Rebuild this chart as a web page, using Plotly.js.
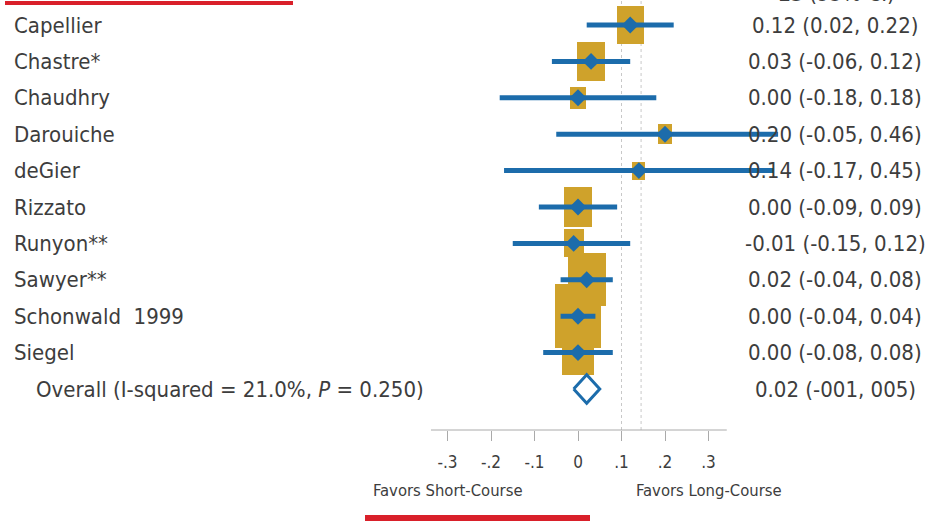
<!DOCTYPE html>
<html>
<head>
<meta charset="utf-8">
<script src="https://cdn.plot.ly/plotly-3.0.1.min.js"></script>
<style>html,body{margin:0;padding:0;background:#fff;}#chart{width:930px;height:521px;}</style>
</head>
<body>
<div id="chart"></div>
<script>
// ---- data ----
const studies = ['Capellier','Chastre*','Chaudhry','Darouiche','deGier','Rizzato','Runyon**','Sawyer**','Schonwald  1999','Siegel'];
const es = [0.12, 0.03, 0.00, 0.20, 0.14, 0.00, -0.01, 0.02, 0.00, 0.00];
const lo = [0.02, -0.06, -0.18, -0.05, -0.17, -0.09, -0.15, -0.04, -0.04, -0.08];
const hi = [0.22, 0.12, 0.18, 0.46, 0.45, 0.09, 0.12, 0.08, 0.04, 0.08];
const weights = [9.2, 9.9, 3.2, 2.5, 2.1, 9.9, 5.1, 18.3, 26.8, 13.0];
const esLabels = ['0.12 (0.02, 0.22)','0.03 (-0.06, 0.12)','0.00 (-0.18, 0.18)','0.20 (-0.05, 0.46)','0.14 (-0.17, 0.45)',
                  '0.00 (-0.09, 0.09)','-0.01 (-0.15, 0.12)','0.02 (-0.04, 0.08)','0.00 (-0.04, 0.04)','0.00 (-0.08, 0.08)'];
const overallLabel = 'Overall (I-squared = 21.0%, <i>P</i> = 0.250)';
const overallES = 0.02, overallLo = -0.01, overallHi = 0.05;
const overallText = '0.02 (-001, 005)';
const tickVals = [-0.3, -0.2, -0.1, 0, 0.1, 0.2, 0.3];
const tickText = ['-.3', '-.2', '-.1', '0', '.1', '.2', '.3'];
const refLines = [0.1, 0.145];
const favorLabels = ['Favors Short-Course', 'Favors Long-Course'];
const favorAt = [-0.3, 0.3];

// ---- geometry (styling) ----
const W = 930, H = 521;
const pxPerX = 435, zeroPx = 578;
const rowPx = 36.4, row0Px = 25;
const xr = [-zeroPx / pxPerX, (W - zeroPx) / pxPerX];
const yr = [(H - row0Px) / rowPx, -row0Px / rowPx];
const axisPaperY = (H - 430) / H;

const rows = studies.map((_, i) => i);
const overallRow = studies.length;
const maxW = Math.max(...weights);
const boxWpx = weights.map(w => 46 * Math.sqrt(w / maxW));
const halfW = boxWpx.map(p => p / 2 / pxPerX);
const boxH = boxWpx.map(p => 1.4 * p / rowPx);

const BLUE = '#1c6cab', GOLD = '#cfa22b', TXT = '#3d3d3d';
const FONT = 'DejaVu Sans Condensed, Liberation Sans, sans-serif';
const FS = 22;

const traces = [
  { type: 'bar', orientation: 'h', y: rows, base: es.map((e, i) => e - halfW[i]),
    x: halfW.map(h => 2 * h), width: boxH, marker: { color: GOLD, line: { width: 0 } },
    hoverinfo: 'skip', showlegend: false },
  { type: 'scatter', mode: 'markers', x: es, y: rows,
    marker: { symbol: 'diamond', size: 13, color: BLUE },
    error_x: { type: 'data', symmetric: false, array: hi.map((h, i) => h - es[i]),
               arrayminus: lo.map((l, i) => es[i] - l), thickness: 5, width: 0, color: BLUE },
    hoverinfo: 'skip', showlegend: false, cliponaxis: false },
  { type: 'scatter', mode: 'lines',
    x: [overallLo, overallES, overallHi, overallES, overallLo],
    y: [overallRow, overallRow - 0.39, overallRow, overallRow + 0.39, overallRow],
    line: { color: BLUE, width: 3 }, hoverinfo: 'skip', showlegend: false }
];

const annotations = [];
studies.forEach((s, i) => annotations.push({ xref: 'paper', yref: 'y', x: 12 / W, y: i, text: s,
  xanchor: 'left', yanchor: 'middle', showarrow: false, font: { family: FONT, size: FS, color: TXT } }));
annotations.push({ xref: 'paper', yref: 'y', x: 34 / W, y: overallRow, text: overallLabel,
  xanchor: 'left', yanchor: 'middle', showarrow: false, font: { family: FONT, size: FS, color: TXT } });
esLabels.forEach((s, i) => annotations.push({ xref: 'paper', yref: 'y', x: 835 / W, y: i, text: s,
  xanchor: 'center', yanchor: 'middle', showarrow: false, font: { family: FONT, size: FS, color: TXT } }));
annotations.push({ xref: 'paper', yref: 'y', x: 835 / W, y: overallRow, text: overallText,
  xanchor: 'center', yanchor: 'middle', showarrow: false, font: { family: FONT, size: FS, color: TXT } });
annotations.push({ xref: 'paper', yref: 'paper', x: 836 / W, y: 1 + 7 / H, text: 'ES (95% CI)',
  xanchor: 'center', yanchor: 'middle', showarrow: false, font: { family: FONT, size: FS, color: TXT } });
favorLabels.forEach((s, i) => annotations.push({ xref: 'x', yref: 'paper', x: favorAt[i], y: (H - 490) / H,
  text: s, xanchor: 'center', yanchor: 'middle', showarrow: false, font: { family: FONT, size: 16.5, color: TXT } }));

const shapes = [];
refLines.forEach(v => shapes.push({ type: 'line', xref: 'x', yref: 'paper', x0: v, x1: v, y0: axisPaperY, y1: 1,
  line: { color: '#c8c8c8', width: 1, dash: 'dot' }, layer: 'below' }));
shapes.push({ type: 'line', xref: 'x', yref: 'paper', x0: -0.338, x1: 0.342, y0: axisPaperY, y1: axisPaperY,
  line: { color: '#aaaaaa', width: 1 } });
shapes.push({ type: 'line', xref: 'paper', yref: 'paper', x0: 5 / W, x1: 293 / W, y0: 1 - 3 / H, y1: 1 - 3 / H,
  line: { color: '#d9202a', width: 4 } });
shapes.push({ type: 'rect', xref: 'paper', yref: 'paper', x0: 365 / W, x1: 590 / W, y0: 0, y1: 6 / H,
  line: { width: 0 }, fillcolor: '#d9202a' });

const layout = {
  width: W, height: H, margin: { l: 0, r: 0, t: 0, b: 0 },
  paper_bgcolor: '#fff', plot_bgcolor: '#fff', showlegend: false, bargap: 0,
  xaxis: { range: xr, anchor: 'free', position: axisPaperY, showgrid: false, zeroline: false, showline: false,
           ticks: 'outside', ticklen: 10, tickwidth: 1, tickcolor: '#aaaaaa',
           tickvals: tickVals, ticktext: tickText, ticklabelstandoff: 7,
           tickfont: { family: FONT, size: 17, color: TXT }, fixedrange: true },
  yaxis: { range: yr, visible: false, showgrid: false, zeroline: false, fixedrange: true },
  annotations: annotations, shapes: shapes
};

Plotly.newPlot('chart', traces, layout, { staticPlot: true, displayModeBar: false });
</script>
</body>
</html>
